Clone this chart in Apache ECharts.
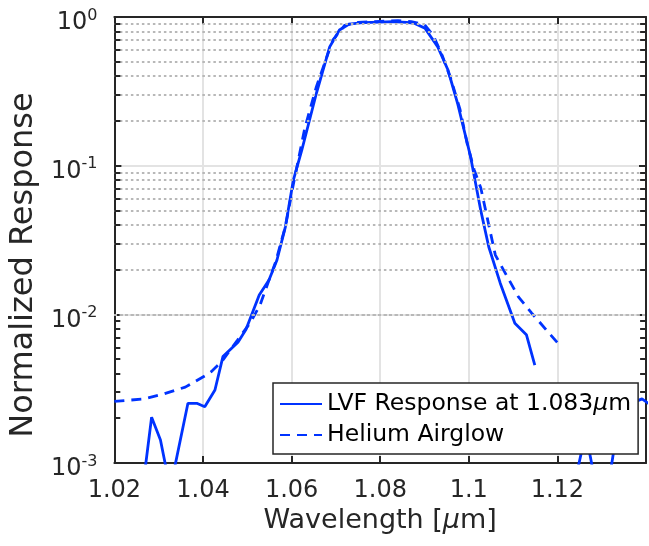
<!DOCTYPE html>
<html><head><meta charset="utf-8">
<script src="https://cdn.jsdelivr.net/npm/echarts@6/dist/echarts.min.js"></script>
<style>html,body{margin:0;padding:0;background:#fff}#c{width:649px;height:546px}</style>
</head><body><div id="c"></div>
<script>
// LVF response (solid)
const lvfX = [1.0264, 1.0284, 1.0304, 1.0326, 1.0366, 1.0386, 1.0404, 1.0427, 1.0445, 1.0479, 1.0497, 1.0527, 1.0549, 1.0567, 1.0586, 1.0604, 1.0623, 1.0656, 1.0686, 1.0708, 1.0730, 1.0760, 1.0800, 1.0827, 1.0860, 1.0878, 1.0901, 1.0930, 1.0953, 1.0975, 1.1004, 1.1027, 1.1045, 1.1071, 1.1104, 1.1130, 1.1149, 1.1169, 1.1224, 1.1264, 1.1284, 1.1304, 1.1344, 1.1364, 1.1391, 1.1411];
const lvfY = [6.8e-4, 2.03e-3, 1.43e-3, 6.7e-4, 2.52e-3, 2.52e-3, 2.39e-3, 3.1e-3, 5.2e-3, 6.5e-3, 7.9e-3, 1.35e-2, 1.70e-2, 2.32e-2, 3.88e-2, 8.0e-2, 0.127, 0.307, 0.63, 0.817, 0.897, 0.916, 0.925, 0.93, 0.92, 0.906, 0.84, 0.63, 0.44, 0.26, 0.115, 5.0e-2, 2.85e-2, 1.62e-2, 8.7e-3, 7.3e-3, 4.56e-3, null, 4.6e-4, 1.6e-3, 7.8e-4, 4.4e-4, 2.5e-3, 2.5e-3, 2.7e-3, 2.45e-3];
// Helium airglow (dashed)
const heX = [1.0200, 1.0264, 1.0311, 1.0360, 1.0404, 1.0418, 1.0442, 1.0478, 1.0508, 1.0529, 1.0549, 1.0564, 1.0586, 1.0604, 1.0630, 1.0656, 1.0693, 1.0720, 1.0750, 1.0800, 1.0840, 1.0870, 1.0900, 1.0920, 1.0940, 1.0960, 1.0980, 1.0997, 1.1012, 1.1027, 1.1042, 1.1060, 1.1086, 1.1112, 1.1142, 1.1175, 1.1203];
const heY = [2.6e-3, 2.69e-3, 2.91e-3, 3.24e-3, 3.85e-3, 4.1e-3, 4.8e-3, 6.7e-3, 8.9e-3, 1.16e-2, 1.7e-2, 2.25e-2, 3.9e-2, 7.5e-2, 0.18, 0.34, 0.70, 0.88, 0.92, 0.935, 0.945, 0.93, 0.89, 0.75, 0.55, 0.38, 0.24, 0.138, 0.094, 0.071, 0.044, 0.025, 0.0181, 0.0131, 0.0102, 0.00785, 0.0063];

const seriesNames = ['LVF Response at 1.083μm', 'Helium Airglow'];
const xMin = 1.02, xMax = 1.14, xStep = 0.02;
const yMin = 0.001, yMax = 1;
const minorDecades = [0.001, 0.01, 0.1];
const minorMantissas = [2, 3, 4, 5, 6, 7, 8, 9];

const FONT = 'DejaVu Sans';
const BLUE = '#0033ff';
const AX = '#262626';

const toPairs = (xs, ys) => xs.map((x, i) => [x, ys[i] == null ? '-' : ys[i]]);
const minorVals = [];
minorDecades.forEach(d => minorMantissas.forEach(m => minorVals.push(+(m * d).toPrecision(3))));
const tickLen = 6 / 4500; // in x data units (about 6px)

const chart = echarts.init(document.getElementById('c'), null, {renderer: 'canvas'});
const yLabelFmt = v => '{b|10}{s|' + Math.round(Math.log10(v)) + '}';

chart.setOption({
  animation: false,
  backgroundColor: '#fff',
  grid: {left: 108, right: 1, top: 17, bottom: 83, containLabel: false},
  legend: {
    data: seriesNames,
    orient: 'vertical',
    left: 273, top: 383, z: 20,
    backgroundColor: '#fff',
    borderColor: AX, borderWidth: 1.5, borderRadius: 0,
    padding: [7, 7, 5, 6],
    itemWidth: 42, itemHeight: 14, itemGap: 3,
    itemStyle: {opacity: 0},
    formatter: n => n.replace('μ', '{i|μ}'),
    textStyle: {fontFamily: FONT, fontSize: 23.5, lineHeight: 28, color: '#000',
      rich: {i: {fontFamily: FONT, fontSize: 23.5, fontStyle: 'italic', color: '#000', lineHeight: 28}}}
  },
  xAxis: [{
    type: 'value', min: xMin, max: xMax, interval: xStep, position: 'bottom',
    name: 'Wavelength [{i|μ}m]', nameLocation: 'middle', nameGap: 44,
    nameTextStyle: {fontFamily: FONT, fontSize: 27, color: '#262626',
      rich: {i: {fontFamily: FONT, fontSize: 27, fontStyle: 'italic', color: '#262626'}}},
    axisLine: {show: true, onZero: false, lineStyle: {color: AX, width: 2}},
    axisTick: {show: true, inside: true, length: 7, lineStyle: {color: AX, width: 2}},
    axisLabel: {fontFamily: FONT, fontSize: 24, color: '#262626', margin: 16,
      showMinLabel: true, showMaxLabel: true,
      formatter: v => (v > xMax - 0.005 ? '' : String(parseFloat(v.toFixed(2))))},
    splitLine: {show: true, lineStyle: {color: '#e3e3e3', width: 2}}
  }, {
    type: 'value', min: xMin, max: xMax, interval: xStep, position: 'top',
    axisLine: {show: true, onZero: false, lineStyle: {color: AX, width: 2}},
    axisTick: {show: true, inside: true, length: 7, lineStyle: {color: AX, width: 2}},
    axisLabel: {show: false}, splitLine: {show: false}
  }],
  yAxis: [{
    type: 'log', logBase: 10, min: yMin, max: yMax, position: 'left',
    name: 'Normalized Response', nameLocation: 'middle', nameGap: 59,
    nameTextStyle: {fontFamily: FONT, fontSize: 32, color: '#262626', padding: [0, 50, 0, 0]},
    axisLine: {show: true, onZero: false, lineStyle: {color: AX, width: 2}},
    axisTick: {show: true, inside: true, length: 7, lineStyle: {color: AX, width: 2}},
    axisLabel: {fontFamily: FONT, color: '#262626', margin: 17, padding: [5, 0, 0, 0],
      showMinLabel: true, showMaxLabel: true, formatter: yLabelFmt,
      rich: {
        b: {fontFamily: FONT, fontSize: 24, lineHeight: 24, padding: [7, 0, 0, 0], color: '#262626'},
        s: {fontFamily: FONT, fontSize: 16, lineHeight: 16, verticalAlign: 'top', color: '#262626'}
      }},
    splitLine: {show: true, lineStyle: {color: '#e3e3e3', width: 2}},
    minorTick: {show: false}, minorSplitLine: {show: false}
  }, {
    type: 'log', logBase: 10, min: yMin, max: yMax, position: 'right',
    axisLine: {show: true, onZero: false, lineStyle: {color: AX, width: 2}},
    axisTick: {show: true, inside: true, length: 7, lineStyle: {color: AX, width: 2}},
    axisLabel: {show: false}, splitLine: {show: false}
  }],
  series: [
    {
      name: '_minorGrid', type: 'line', xAxisIndex: 0, yAxisIndex: 0, z: 1,
      data: [[xMin, 0.5]], symbol: 'none', lineStyle: {opacity: 0}, silent: true,
      markLine: {
        silent: true, symbol: ['none', 'none'], label: {show: false}, animation: false,
        lineStyle: {color: '#b8b8b8', width: 2, type: [2.5, 3]},
        emphasis: {disabled: true},
        data: minorVals.map(v => ({yAxis: v}))
      }
    },
    {
      name: '_minorTicks', type: 'line', xAxisIndex: 0, yAxisIndex: 0, z: 2,
      data: [[xMin, 0.5]], symbol: 'none', lineStyle: {opacity: 0}, silent: true,
      markLine: {
        silent: true, symbol: ['none', 'none'], label: {show: false}, animation: false,
        lineStyle: {color: AX, width: 2, type: 'solid'},
        emphasis: {disabled: true},
        data: minorVals.map(v => [{coord: [xMin, v]}, {coord: [xMin + tickLen, v]}])
          .concat(minorVals.map(v => [{coord: [xMax - tickLen, v]}, {coord: [xMax, v]}]))
      }
    },
    {
      name: seriesNames[0], type: 'line', xAxisIndex: 0, yAxisIndex: 0, z: 3,
      data: toPairs(lvfX, lvfY), symbol: 'none', connectNulls: false, clip: true,
      lineStyle: {color: BLUE, width: 2.8, type: 'solid'}, itemStyle: {color: BLUE}
    },
    {
      name: seriesNames[1], type: 'line', xAxisIndex: 0, yAxisIndex: 0, z: 3,
      data: toPairs(heX, heY), symbol: 'none', clip: true,
      lineStyle: {color: BLUE, width: 2.8, type: [10, 7]}, itemStyle: {color: BLUE}
    }
  ]
});
</script>
</body></html>
